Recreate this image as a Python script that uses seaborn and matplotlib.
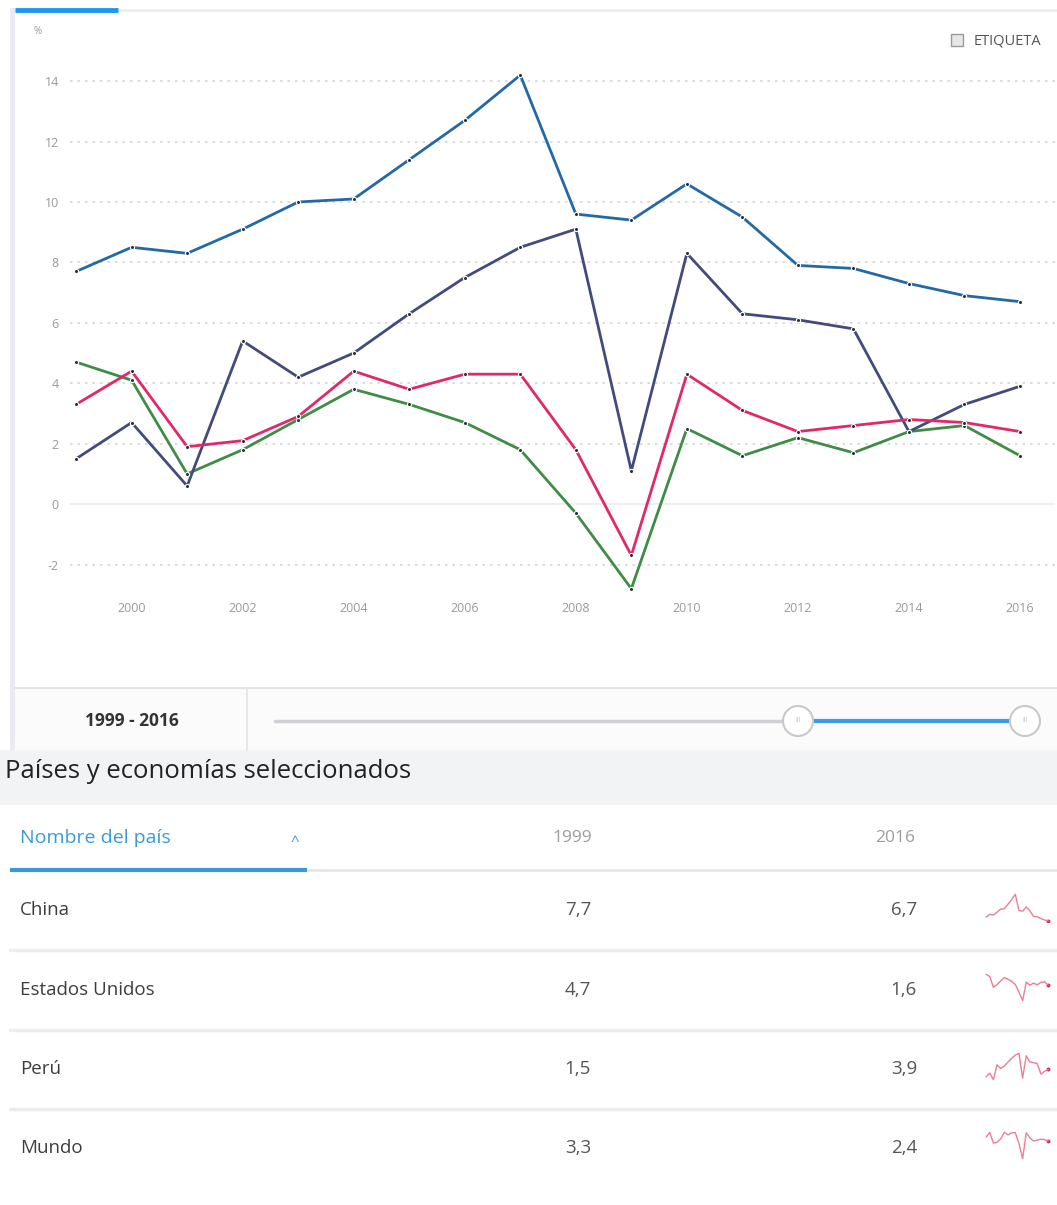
import numpy as np
import pandas as pd
import matplotlib
matplotlib.use("Agg")
import matplotlib.pyplot as plt
from matplotlib.patches import Rectangle, Circle
import seaborn as sns

# ---- data -------------------------------------------------------------
years = list(range(1999, 2017))
countries = ["China", "Estados Unidos", "Perú", "Mundo"]
china = [7.7, 8.5, 8.3, 9.1, 10.0, 10.1, 11.4, 12.7, 14.2, 9.6, 9.4, 10.6, 9.5, 7.9, 7.8, 7.3, 6.9, 6.7]
estados_unidos = [4.7, 4.1, 1.0, 1.8, 2.8, 3.8, 3.3, 2.7, 1.8, -0.3, -2.8, 2.5, 1.6, 2.2, 1.7, 2.4, 2.6, 1.6]
peru = [1.5, 2.7, 0.6, 5.4, 4.2, 5.0, 6.3, 7.5, 8.5, 9.1, 1.1, 8.3, 6.3, 6.1, 5.8, 2.4, 3.3, 3.9]
mundo = [3.3, 4.4, 1.9, 2.1, 2.9, 4.4, 3.8, 4.3, 4.3, 1.8, -1.7, 4.3, 3.1, 2.4, 2.6, 2.8, 2.7, 2.4]
y_ticks = [-2, 0, 2, 4, 6, 8, 10, 12, 14]
x_ticks = [2000, 2002, 2004, 2006, 2008, 2010, 2012, 2014, 2016]

series = {"China": china, "Estados Unidos": estados_unidos, "Perú": peru, "Mundo": mundo}
df = pd.DataFrame(
    [(c, y, v) for c, vals in series.items() for y, v in zip(years, vals)],
    columns=["pais", "anio", "valor"],
)
palette = {"China": "#2369a6", "Estados Unidos": "#3f8d45", "Perú": "#434b7c", "Mundo": "#e2276a"}

# ---- figure -----------------------------------------------------------
sns.set_theme(style="white")
plt.rcParams["font.family"] = ["Open Sans", "DejaVu Sans"]

W, H = 1057, 1205
fig = plt.figure(figsize=(W / 100, H / 100), dpi=100)
fig.patch.set_facecolor("white")


def px_axes(x0, y0, x1, y1, **kw):
    return fig.add_axes([x0 / W, 1 - y1 / H, (x1 - x0) / W, (y1 - y0) / H], **kw)


# page layer in pixel coordinates
ui = px_axes(0, 0, W, H)
ui.set_xlim(0, W)
ui.set_ylim(H, 0)
ui.axis("off")

# chart card
ui.add_patch(Rectangle((10, 8), 5, 742, color="#e9eaf2", lw=0))
ui.plot([15, W], [10, 10], color="#ececec", lw=2)
ui.plot([15, 118], [10, 10], color="#1f96ee", lw=3.5, solid_capstyle="butt")
ui.text(38, 31, "%", fontsize=7, color="#9a9a9a", ha="center", va="center")
ui.add_patch(Rectangle((951, 34), 12, 12, facecolor="#e6e6e6", edgecolor="#9a9a9a", lw=1))
ui.text(974, 41, "ETIQUETA", fontsize=10.5, color="#555555", ha="left", va="center")

# range slider row
ui.add_patch(Rectangle((15, 688), W - 15, 62, facecolor="#fbfbfc", lw=0))
ui.plot([15, W], [688, 688], color="#e4e4e8", lw=1.5)
ui.plot([247, 247], [688, 750], color="#e4e4e8", lw=1.2)
ui.text(132, 721, "1999 - 2016", fontsize=12.5, fontweight="bold", color="#333333",
        ha="center", va="center")
ui.plot([275, 798], [721, 721], color="#cfd0d3", lw=2.5, solid_capstyle="round")
ui.plot([798, 1025], [721, 721], color="#3d9be6", lw=3, solid_capstyle="butt")
for cx in (798, 1025):
    ui.add_patch(Circle((cx, 721), 15, facecolor="white", edgecolor="#c9c9c9", lw=1.5, zorder=5))
    ui.text(cx, 721, "III", fontsize=5, color="#c5c5c5", ha="center", va="center", zorder=6)

# section header band
ui.add_patch(Rectangle((0, 750), W, 55, facecolor="#f2f3f5", lw=0))
ui.text(5, 771, "Países y economías seleccionados", fontsize=18.5, color="#222222",
        ha="left", va="center")

# table header
ui.text(20, 838, "Nombre del país", fontsize=14, color="#3a9ad9", ha="left", va="center")
ui.text(295, 842, "^", fontsize=11, color="#3a9ad9", ha="center", va="center")
ui.text(572, 838, "1999", fontsize=12.5, color="#9d9d9d", ha="center", va="center")
ui.text(895, 838, "2016", fontsize=12.5, color="#9d9d9d", ha="center", va="center")
ui.plot([307, W], [870, 870], color="#e6e6e6", lw=2)
ui.plot([10, 307], [870, 870], color="#3a9ad9", lw=3, solid_capstyle="butt")

# table rows
row_y = [910, 990, 1069, 1148]
for i, (name, y) in enumerate(zip(countries, row_y)):
    vals = series[name]
    ui.text(20, y, name, fontsize=13.5, color="#3d3d3d", ha="left", va="center")
    ui.text(591, y, f"{vals[0]:.1f}".replace(".", ","), fontsize=13.5, color="#555555",
            ha="right", va="center")
    ui.text(917, y, f"{vals[-1]:.1f}".replace(".", ","), fontsize=13.5, color="#555555",
            ha="right", va="center")
    if i < len(row_y) - 1:
        ui.plot([10, W], [y + 40, y + 40], color="#ececec", lw=2.5)

# ---- main line chart --------------------------------------------------
ax = px_axes(70, 60, 1055, 592)
ax.set_facecolor("none")
sns.lineplot(data=df, x="anio", y="valor", hue="pais", hue_order=countries,
             palette=palette, linewidth=2.0, legend=False, ax=ax)
sns.scatterplot(data=df, x="anio", y="valor", color="#2a2d3e", s=9,
                edgecolor="white", linewidth=0.8, legend=False, ax=ax, zorder=4)

ax.set_xlim(1998.89, 2016.63)
ax.set_ylim(-2.91, 14.7)
ax.set_xticks(x_ticks)
ax.set_yticks(y_ticks)
ax.set_xticklabels([str(t) for t in x_ticks])
ax.set_yticklabels([str(t) for t in y_ticks])
for t in y_ticks:
    if t == 0:
        ax.axhline(t, color="#ececec", lw=1.2, zorder=0)
    else:
        ax.axhline(t, color="#d6d6d6", lw=1.2, ls=(0, (1.5, 3)), zorder=0)
ax.set_xlabel("")
ax.set_ylabel("")
for s in ax.spines.values():
    s.set_visible(False)
ax.tick_params(axis="x", direction="in", length=3, width=1, color="#cccccc",
               labelsize=9, labelcolor="#9a9a9a", pad=7)
ax.tick_params(axis="y", length=0, labelsize=9, labelcolor="#9a9a9a", pad=8)
ax.grid(False)

# ---- sparklines -------------------------------------------------------
for name, y in zip(countries, row_y):
    sp = px_axes(985, y - 17, 1050, y + 12)
    sp.set_facecolor("none")
    vals = series[name]
    sns.lineplot(x=years, y=vals, color="#ea7f93", linewidth=1.0, ax=sp)
    sns.scatterplot(x=[years[-1]], y=[vals[-1]], color="#e0245e", s=8, linewidth=0, ax=sp)
    sp.set_xlim(years[0] - 0.3, years[-1] + 0.5)
    sp.axis("off")

fig.savefig("out.png", dpi=100, facecolor="white")
